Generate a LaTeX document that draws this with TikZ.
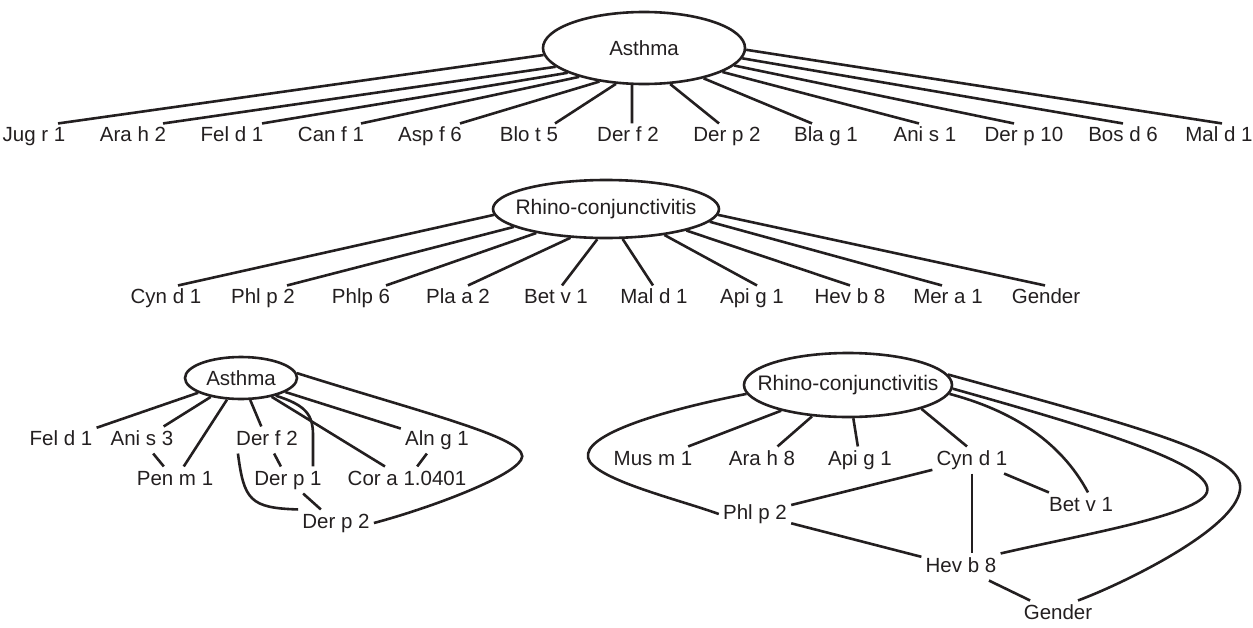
\documentclass[tikz,border=0pt]{standalone}
\usepackage{fontspec}
\setmainfont{Liberation Sans}
\usetikzlibrary{shapes.geometric}
\definecolor{ink}{RGB}{35,31,32}
\begin{document}
\begin{tikzpicture}[x=1pt,y=-1pt,line width=2.6pt,draw=ink,text=ink,
  lab/.style={font=\fontsize{20.5}{24}\selectfont,inner sep=3pt,text height=14.5pt,text depth=4pt},
  hub/.style={ellipse,draw=ink,line width=2.6pt,inner sep=0pt,font=\fontsize{20.5}{24}\selectfont}]
\useasboundingbox (0,0) rectangle (1253,627);

% ---------- row 1 ----------
\node[hub,minimum width=202pt,minimum height=72pt] (a) at (644,48) {Asthma};
\foreach \x/\t/\d/\g [count=\i] in {34/Jug r 1/24/184,133/Ara h 2/30/192,232/Fel d 1/30/198,331/Can f 1/30/204,430/Asp f 6/30/217,529/Blo t 5/26/232,628/Der f 2/4/252,727/Der p 2/-8/306,826/Bla g 1/-14/333,925/Ani s 1/-6/343,1024/Der p 10/-10/349,1123/Bos d 6/0/354,1219/Mal d 1/3/359}{
  \node[lab] (t\i) at (\x,136) {\t};
  \draw (a.\g) -- ([xshift=\d pt,yshift=-1pt]t\i.north);
}

% ---------- row 2 ----------
\node[hub,minimum width=226pt,minimum height=58pt,font=\fontsize{21}{24}\selectfont] (r) at (606,209) {\makebox[0pt]{Rhino-conjunctivitis}};
\foreach \x/\t/\d/\g [count=\i] in {166/Cyn d 1/12/183,263/Phl p 2/24/191,361/Phlp 6/25/199,458/Pla a 2/10/219,556/Bet v 1/6/254,654/Mal d 1/-1/299,752/Api g 1/5/336,850/Hev b 8/0/345,948/Mer a 1/-6/353,1046/Gender/-1/357}{
  \node[lab] (s\i) at (\x,298) {\t};
  \draw (r.\g) -- ([xshift=\d pt,yshift=-1pt]s\i.north);
}

% ---------- bottom left ----------
\node[hub,minimum width=112pt,minimum height=42pt] (b) at (241,378) {Asthma};
\node[lab] (fel) at (61,440) {Fel d 1};
\node[lab] (anis) at (142,440) {Ani s 3};
\node[lab] (derf) at (267,440) {Der f 2};
\node[lab] (aln) at (437,440) {Aln g 1};
\node[lab] (pen) at (175,480) {Pen m 1};
\node[lab] (derp1) at (288,480) {Der p 1};
\node[lab] (cora) at (407,480) {Cor a 1.0401};
\node[lab] (derp2) at (336,523) {Der p 2};
\draw (b) -- (fel);
\draw (b) -- (anis);
\draw (b) -- (pen);
\draw (anis) -- (pen);
\draw (b) -- (derf);
\draw (derf) -- (derp1);
\draw (b) -- (cora);
\draw (b) -- (aln);
\draw (aln) -- (cora);
\draw (derp1) -- (derp2);
\draw (b.-27) .. controls (306,405) and (313,415) .. (313,435) -- ([xshift=25pt]derp1.north);
\draw ([xshift=6pt]derf.south west) .. controls (244,500) and (250,508) .. (derp2.north west);
\draw (b.5) .. controls (430,415) and (535,440) .. (521,460) .. controls (510,478) and (430,508) .. (derp2.east);

% ---------- bottom right ----------
\node[hub,minimum width=208pt,minimum height=64pt,font=\fontsize{21}{24}\selectfont] (c) at (848,385) {\makebox[0pt]{Rhino-conjunctivitis}};
\node[lab] (mus) at (653,460) {Mus m 1};
\node[lab] (arah) at (762,460) {Ara h 8};
\node[lab] (apig) at (860,460) {Api g 1};
\node[lab] (cynd) at (972,460) {Cyn d 1};
\node[lab] (phl) at (755,514) {Phl p 2};
\node[lab] (hev) at (961,567) {Hev b 8};
\node[lab] (bet) at (1081,506) {Bet v 1};
\node[lab] (gen) at (1058,614) {Gender};
\draw (c) -- (mus);
\draw (c) -- (arah);
\draw (c) -- (apig);
\draw (c.342) -- ([xshift=-5pt]cynd.north);
\draw (cynd) -- (phl);
\draw (phl) -- (hev);
\draw (cynd.south) -- (cynd.south |- hev.north);
\draw (cynd) -- (bet);
\draw (hev) -- (gen);
\draw (c.185) .. controls (640,415) and (575,440) .. (590,462) .. controls (605,482) and (680,500) .. (phl.west);
\draw (c.-5) .. controls (1010,410) and (1060,440) .. ([xshift=7pt]bet.north);
\draw (c.-2) .. controls (1100,430) and (1215,465) .. (1207,492) .. controls (1200,515) and (1080,535) .. (hev.north east);
\draw (c.6) .. controls (1150,430) and (1245,455) .. (1240,490) .. controls (1235,530) and (1120,585) .. ([xshift=20pt]gen.north);
\end{tikzpicture}
\end{document}
